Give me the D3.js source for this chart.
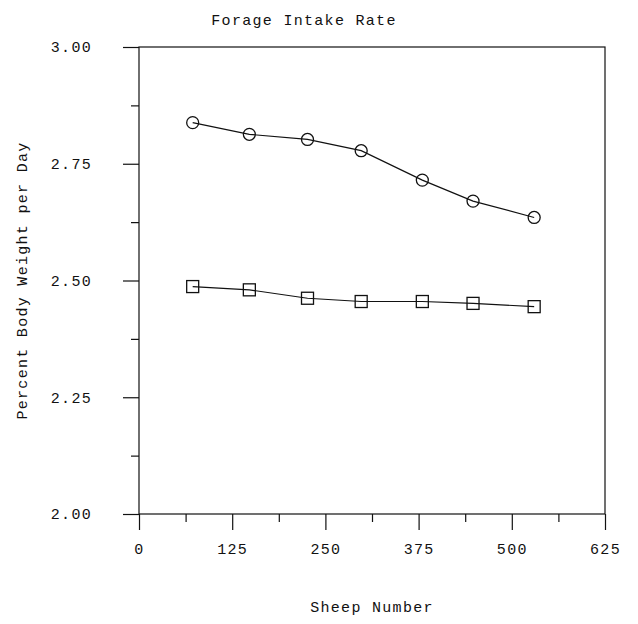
<!DOCTYPE html>
<html>
<head>
<meta charset="utf-8">
<script src="https://cdn.jsdelivr.net/npm/d3@7"></script>
<style>
  body { margin: 0; background: #fff; }
  text { font-family: "Liberation Mono", "DejaVu Sans Mono", monospace; fill: #111; }
</style>
</head>
<body>
<div id="chart"></div>
<script>
// sheep numbers (x) and intake rates (% body weight per day)
const sheepNumber = [72, 148, 226, 298, 380, 448, 530];
const circleSeries = [2.838, 2.813, 2.802, 2.778, 2.715, 2.670, 2.635];
const squareSeries = [2.487, 2.480, 2.462, 2.455, 2.455, 2.451, 2.444];
const xTicks = [0, 125, 250, 375, 500, 625];
const yTicks = [2.00, 2.25, 2.50, 2.75, 3.00];

const widthSvg = 638;
const heightSvg = 624;
const margin = { top: 47, right: 33, bottom: 110, left: 139 };
const widthChart = widthSvg - margin.left - margin.right;
const heightChart = heightSvg - margin.top - margin.bottom;

const svg = d3.select('#chart').append('svg')
  .attr('width', widthSvg)
  .attr('height', heightSvg);

const g = svg.append('g')
  .attr('transform', `translate(${margin.left},${margin.top})`);

const scaleX = d3.scaleLinear().domain([0, 625]).range([0, widthChart]);
const scaleY = d3.scaleLinear().domain([2, 3]).range([heightChart, 0]);

const stroke = '#111';
const fontSize = 15;
const spacing = 1.3;

// frame
g.append('rect')
  .attr('x', 0).attr('y', 0)
  .attr('width', widthChart).attr('height', heightChart)
  .attr('fill', 'none').attr('stroke', stroke).attr('stroke-width', 1.2);

// x axis: major + minor ticks
const minorX = d3.range(62.5, 625, 125);
g.append('g')
  .attr('transform', `translate(0,${heightChart})`)
  .call(d3.axisBottom(scaleX).tickValues(minorX).tickSize(8).tickFormat(''))
  .call(a => a.select('.domain').remove())
  .selectAll('line').attr('stroke', stroke).attr('stroke-width', 1.2);

const axX = g.append('g')
  .attr('transform', `translate(0,${heightChart})`)
  .call(d3.axisBottom(scaleX).tickValues(xTicks).tickSize(16).tickPadding(13).tickFormat(d3.format('d')));
axX.select('.domain').remove();
axX.selectAll('line').attr('stroke', stroke).attr('stroke-width', 1.2);
axX.selectAll('text')
  .attr('font-size', fontSize).attr('letter-spacing', spacing)
  .style('font-family', '"Liberation Mono", monospace').attr('fill', '#111');

// y axis: major + minor ticks
const minorY = d3.range(2.125, 3, 0.25);
g.append('g')
  .call(d3.axisLeft(scaleY).tickValues(minorY).tickSize(8).tickFormat(''))
  .call(a => a.select('.domain').remove())
  .selectAll('line').attr('stroke', stroke).attr('stroke-width', 1.2);

const axY = g.append('g')
  .call(d3.axisLeft(scaleY).tickValues(yTicks).tickSize(16).tickPadding(31).tickFormat(d3.format('.2f')));
axY.select('.domain').remove();
axY.selectAll('line').attr('stroke', stroke).attr('stroke-width', 1.2);
axY.selectAll('text')
  .attr('font-size', fontSize).attr('letter-spacing', spacing)
  .style('font-family', '"Liberation Mono", monospace').attr('fill', '#111');

// lines
const line = d3.line()
  .x((d, i) => scaleX(sheepNumber[i]))
  .y(d => scaleY(d));

[circleSeries, squareSeries].forEach(s => {
  g.append('path')
    .datum(s)
    .attr('d', line)
    .attr('fill', 'none')
    .attr('stroke', stroke)
    .attr('stroke-width', 1.2);
});

// markers
g.selectAll('.circ')
  .data(circleSeries)
  .join('circle')
  .attr('class', 'circ')
  .attr('cx', (d, i) => scaleX(sheepNumber[i]))
  .attr('cy', d => scaleY(d))
  .attr('r', 6)
  .attr('fill', 'none')
  .attr('stroke', stroke)
  .attr('stroke-width', 1.3);

g.selectAll('.sq')
  .data(squareSeries)
  .join('rect')
  .attr('class', 'sq')
  .attr('x', (d, i) => scaleX(sheepNumber[i]) - 6)
  .attr('y', d => scaleY(d) - 6)
  .attr('width', 12)
  .attr('height', 12)
  .attr('fill', 'none')
  .attr('stroke', stroke)
  .attr('stroke-width', 1.3);

// titles
svg.append('text')
  .attr('x', 304)
  .attr('y', 25)
  .attr('text-anchor', 'middle')
  .attr('font-size', fontSize).attr('letter-spacing', spacing)
  .text('Forage Intake Rate');

svg.append('text')
  .attr('x', margin.left + widthChart / 2)
  .attr('y', 612)
  .attr('text-anchor', 'middle')
  .attr('font-size', fontSize).attr('letter-spacing', spacing)
  .text('Sheep Number');

svg.append('text')
  .attr('transform', `translate(27,${margin.top + heightChart / 2}) rotate(-90)`)
  .attr('text-anchor', 'middle')
  .attr('font-size', fontSize).attr('letter-spacing', spacing)
  .text('Percent Body Weight per Day');
</script>
</body>
</html>
